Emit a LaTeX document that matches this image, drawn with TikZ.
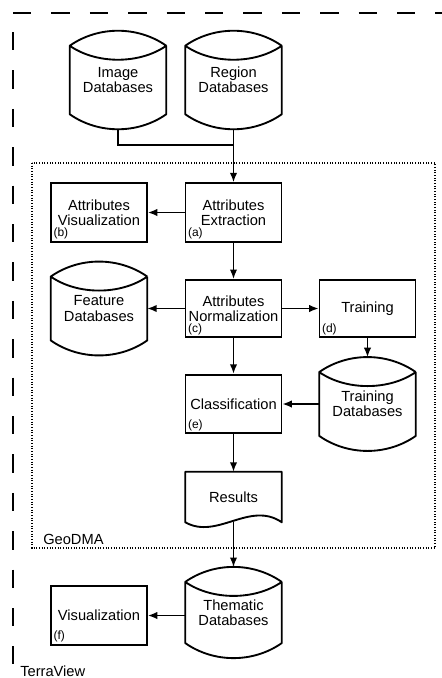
\documentclass[tikz,border=0pt]{standalone}
\usepackage{fontspec}
\setmainfont{Liberation Sans}
\usetikzlibrary{arrows.meta}

\begin{document}
\begin{tikzpicture}[%
      x=0.75pt, y=-0.75pt,
      font=\fontsize{11pt}{11.5pt}\selectfont,
      proc/.style={draw, line width=1.4pt, minimum width=72pt, minimum height=44pt, align=center, inner sep=0pt},
      drum/.style={minimum width=72pt, align=center, inner sep=0pt},
      shapeline/.style={line width=1.4pt, line join=round},
      flow/.style={line width=1.1pt, -{Latex[length=7pt,width=5.5pt]}},
      tag/.style={font=\fontsize{9pt}{10pt}\selectfont, inner sep=2.4pt, anchor=south west},
      ]
      \useasboundingbox (0,0) rectangle (442,678);
      \draw [line width=1.5pt, dash pattern=on 13.8pt off 15pt] (13,13) -- (442,13);
      \draw [line width=1.5pt, dash pattern=on 13.8pt off 15pt] (13,32) -- (13,664);
      \draw [line width=0.8pt, dash pattern=on 0.8pt off 1.2pt] (32,163) rectangle (435,548);

      \node[drum, minimum height=73.5pt] (imgdb) at (118,80) {Image\\Databases};
      \node[drum, minimum height=73.5pt] (regdb) at (233.5,80) {Region\\Databases};
      \node[proc] (attrext) at (233.5,212.5) {Attributes\\Extraction};
      \node[proc] (attrvis) at (99,212.5) {Attributes\\Visualization};
      \node[proc, minimum height=43pt] (attrnorm) at (233.5,308.5) {Attributes\\Normalization};
      \node[drum, minimum height=70pt] (featdb) at (99,308.5) {Feature\\Databases};
      \node[proc, minimum height=43pt] (training) at (367.5,308.5) {Training};
      \node[drum, minimum height=70pt] (traindb) at (367.5,404) {Training\\Databases};
      \node[proc] (classif) at (233.5,404) {Classification};
      \node[minimum width=72pt, minimum height=37.5pt, inner sep=0pt] (results) at (233.5,497) {Results};
      \node[drum, minimum height=68pt] (themdb) at (233.5,612.5) {Thematic\\Databases};
      \node[proc] (vis) at (99,615.5) {Visualization};

      \node[tag] (taga) at (attrext.south west) {(a)};
      \node[tag] (tagb) at (attrvis.south west) {(b)};
      \node[tag] (tagc) at (attrnorm.south west) {(c)};
      \node[tag] (tagd) at (training.south west) {(d)};
      \node[tag] (tage) at (classif.south west) {(e)};
      \node[tag] (tagf) at (vis.south west) {(f)};

      \node[anchor=base west, inner sep=0pt] (geodma) at (43,544) {GeoDMA};
      \node[anchor=base west, inner sep=0pt] (terraview) at (20,676) {TerraView};

      % database drums
      \draw [shapeline] ([yshift=-11.25pt]imgdb.north east) -- ([yshift=11.25pt]imgdb.south east)
            .. controls +(-21.5pt,-15pt) and +(21.5pt,-15pt) .. ([yshift=11.25pt]imgdb.south west)
            -- ([yshift=-11.25pt]imgdb.north west) .. controls +(21.5pt,15pt) and +(-21.5pt,15pt) .. ([yshift=-11.25pt]imgdb.north east)
            ([yshift=-11.25pt]imgdb.north west) .. controls +(20pt,-14pt) and +(-20pt,-14pt) .. ([yshift=-11.25pt]imgdb.north east);
      \draw [shapeline] ([yshift=-11.25pt]regdb.north east) -- ([yshift=11.25pt]regdb.south east)
            .. controls +(-21.5pt,-15pt) and +(21.5pt,-15pt) .. ([yshift=11.25pt]regdb.south west)
            -- ([yshift=-11.25pt]regdb.north west) .. controls +(21.5pt,15pt) and +(-21.5pt,15pt) .. ([yshift=-11.25pt]regdb.north east)
            ([yshift=-11.25pt]regdb.north west) .. controls +(20pt,-14pt) and +(-20pt,-14pt) .. ([yshift=-11.25pt]regdb.north east);
      \draw [shapeline] ([yshift=-11.25pt]featdb.north east) -- ([yshift=11.25pt]featdb.south east)
            .. controls +(-21.5pt,-15pt) and +(21.5pt,-15pt) .. ([yshift=11.25pt]featdb.south west)
            -- ([yshift=-11.25pt]featdb.north west) .. controls +(21.5pt,15pt) and +(-21.5pt,15pt) .. ([yshift=-11.25pt]featdb.north east)
            ([yshift=-11.25pt]featdb.north west) .. controls +(20pt,-14pt) and +(-20pt,-14pt) .. ([yshift=-11.25pt]featdb.north east);
      \draw [shapeline] ([yshift=-11.25pt]traindb.north east) -- ([yshift=11.25pt]traindb.south east)
            .. controls +(-21.5pt,-15pt) and +(21.5pt,-15pt) .. ([yshift=11.25pt]traindb.south west)
            -- ([yshift=-11.25pt]traindb.north west) .. controls +(21.5pt,15pt) and +(-21.5pt,15pt) .. ([yshift=-11.25pt]traindb.north east)
            ([yshift=-11.25pt]traindb.north west) .. controls +(20pt,-14pt) and +(-20pt,-14pt) .. ([yshift=-11.25pt]traindb.north east);
      \draw [shapeline] ([yshift=-11.25pt]themdb.north east) -- ([yshift=11.25pt]themdb.south east)
            .. controls +(-21.5pt,-15pt) and +(21.5pt,-15pt) .. ([yshift=11.25pt]themdb.south west)
            -- ([yshift=-11.25pt]themdb.north west) .. controls +(21.5pt,15pt) and +(-21.5pt,15pt) .. ([yshift=-11.25pt]themdb.north east)
            ([yshift=-11.25pt]themdb.north west) .. controls +(20pt,-14pt) and +(-20pt,-14pt) .. ([yshift=-11.25pt]themdb.north east);

      % document shape
      \draw [shapeline] (results.north west) -- (results.south west)
            .. controls +(24pt,-13.5pt) and +(-24pt,16.5pt) .. (results.south east)
            -- (results.north east) -- cycle;

      \coordinate (merge) at (233.5,145);
      \draw [line width=1.1pt] (imgdb.south) |- (merge);
      \draw [flow] (regdb.south) -- (attrext.north);
      \draw [flow] (attrext.west) -- (attrvis.east);
      \draw [flow] (attrext.south) -- (attrnorm.north);
      \draw [flow] (attrnorm.west) -- (featdb.east);
      \draw [flow] (attrnorm.east) -- (training.west);
      \draw [flow] (attrnorm.south) -- (classif.north);
      \draw [flow] (training.south) -- (traindb.north);
      \draw [flow] (traindb.west) -- (classif.east);
      \draw [flow] (classif.south) -- (results.north);
      \draw [flow] (results.south) -- (themdb.north);
      \draw [flow] (themdb.west |- vis.east) -- (vis.east);
      \end{tikzpicture}
\end{document}
